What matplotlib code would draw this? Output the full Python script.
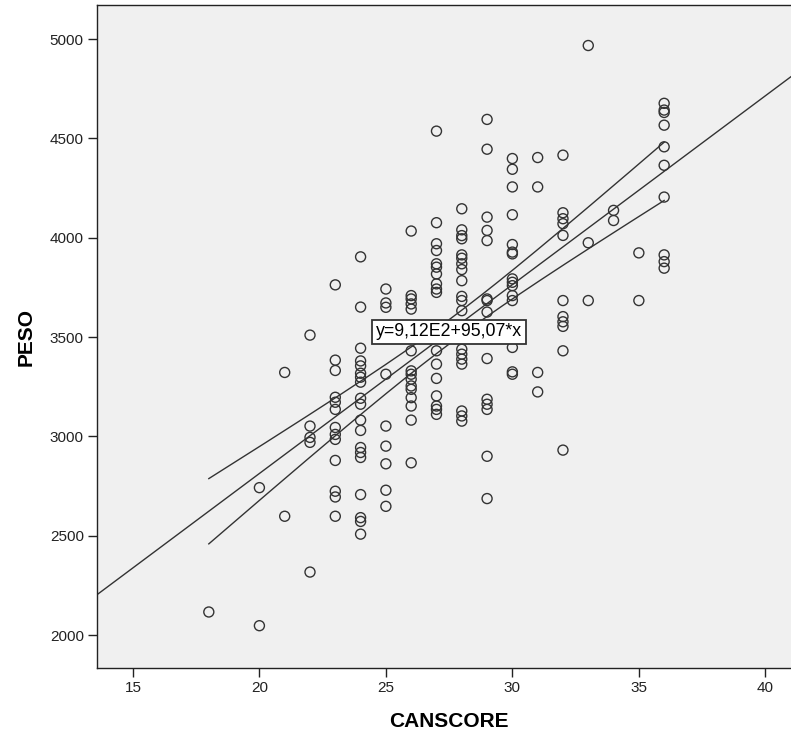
import numpy as np
import matplotlib
matplotlib.use('Agg')
import matplotlib.pyplot as plt

plt.rcParams['font.family'] = ['Liberation Sans', 'DejaVu Sans']

# CANSCORE -> list of PESO values
canscore_vals = [18, 20, 21, 22, 23, 24, 25, 26, 27, 28, 29, 30, 31, 32, 33, 34, 35, 36]
peso_by_score = [
    [2116],
    [2742, 2047],
    [3322, 2598],
    [3510, 3052, 2995, 2970, 2317],
    [3763, 3384, 3332, 3197, 3172, 3136, 3045, 3010, 2985, 2879, 2724, 2695, 2598],
    [3904, 3651, 3444, 3380, 3355, 3318, 3298, 3273, 3192, 3162, 3082, 3030, 2944,
     2919, 2894, 2707, 2591, 2572, 2508],
    [3742, 3672, 3650, 3313, 3052, 2951, 2862, 2729, 2648],
    [4034, 3709, 3692, 3667, 3641, 3431, 3330, 3313, 3288, 3254, 3237, 3195, 3153,
     3082, 2867],
    [4537, 4076, 3970, 3936, 3869, 3852, 3818, 3768, 3742, 3725, 3431, 3364, 3292,
     3204, 3153, 3136, 3111],
    [4146, 4040, 4011, 3995, 3914, 3897, 3869, 3840, 3784, 3705, 3684, 3633, 3439,
     3414, 3389, 3364, 3128, 3103, 3077],
    [4596, 4446, 4104, 4037, 3986, 3692, 3684, 3626, 3392, 3187, 3162, 3136, 2900, 2687],
    [4399, 4345, 4256, 4116, 3966, 3928, 3919, 3793, 3776, 3759, 3709, 3684, 3448,
     3325, 3313],
    [4404, 4256, 3322, 3224],
    [4416, 4126, 4096, 4071, 4012, 3684, 3603, 3577, 3554, 3431, 2931],
    [4968, 3975, 3684],
    [4138, 4087],
    [3924, 3684],
    [4677, 4643, 4631, 4567, 4458, 4365, 4205, 3914, 3880, 3847],
]

# fitted line shown in the chart label
intercept = 912.0
slope = 95.07
fit_label = 'y=9,12E2+95,07*x'

x = np.concatenate([[s] * len(v) for s, v in zip(canscore_vals, peso_by_score)]).astype(float)
y = np.concatenate(peso_by_score).astype(float)

# 95% confidence band of the mean around the fit
n = len(x)
resid = y - (intercept + slope * x)
s_err = np.sqrt(np.sum(resid ** 2) / (n - 2))
sxx = np.sum((x - x.mean()) ** 2)
xx = np.linspace(x.min(), x.max(), 200)
half = 1.975 * s_err * np.sqrt(1.0 / n + (xx - x.mean()) ** 2 / sxx)

W, H = 791, 740
fig = plt.figure(figsize=(W / 100, H / 100), dpi=100)
ax = fig.add_axes([97 / W, (H - 668) / H, (800 - 97) / W, (668 - 5) / H])
ax.set_facecolor('#f0f0f0')

ax.scatter(x, y, s=52, facecolors='none', edgecolors='#333333', linewidths=1.0, zorder=3)

xlim = (13.58, 41.37)
xl = np.array(xlim)
ax.plot(xl, intercept + slope * xl, color='#333333', lw=1.0, zorder=2)
ax.plot(xx, intercept + slope * xx + half, color='#333333', lw=1.0, zorder=2)
ax.plot(xx, intercept + slope * xx - half, color='#333333', lw=1.0, zorder=2)

ax.text(27.5, 3526, fit_label, ha='center', va='center', fontsize=12.8,
        bbox=dict(boxstyle='square,pad=0.22', fc='white', ec='#333333', lw=1.3), zorder=4)

ax.set_xlim(xlim)
ax.set_ylim(1834, 5172)
ax.set_xticks([15, 20, 25, 30, 35, 40])
ax.set_yticks([2000, 2500, 3000, 3500, 4000, 4500, 5000])
ax.tick_params(direction='out', length=6.5, width=1, labelsize=11, pad=3, colors='#222222')
for sp in ax.spines.values():
    sp.set_color('#222222')
    sp.set_linewidth(1.0)

ax.set_xlabel('CANSCORE', fontsize=15, fontweight='bold', labelpad=12)
ax.set_ylabel('PESO', fontsize=15, fontweight='bold', labelpad=10)

fig.savefig('out.png', dpi=100, facecolor='white')
